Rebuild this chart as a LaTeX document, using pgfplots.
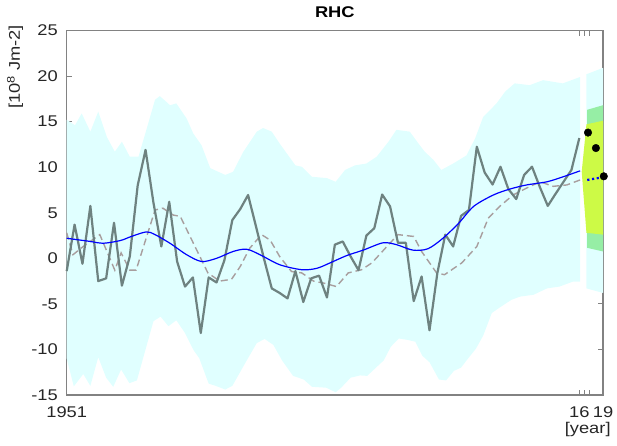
\documentclass[border=0pt]{standalone}
\usepackage{pgfplots}
\pgfplotsset{compat=1.18}
\usepackage{fontspec}
\setmainfont{Liberation Sans}[FakeStretch=1.18]
\definecolor{cyanband}{RGB}{224,255,255}
\definecolor{greenband}{RGB}{150,238,165}
\definecolor{yellowband}{RGB}{205,250,70}
\definecolor{greyline}{RGB}{110,130,128}
\definecolor{dashgrey}{RGB}{168,158,158}
\definecolor{axgrey}{RGB}{130,130,130}
\definecolor{txt}{RGB}{38,38,38}
\begin{document}
\begin{tikzpicture}
\useasboundingbox (0,0) rectangle (617pt,445pt);
\begin{axis}[
  at={(66.7pt,50pt)}, anchor=south west,
  width=536.3pt, height=364.5pt, scale only axis,
  xmin=1951, xmax=2019, ymin=-15, ymax=25,
  ytick={-15,-10,...,25},
  xtick={1951,2016,2019}, xticklabels={1951,16,19},
  extra x ticks={2016.66,2017.25}, extra x tick labels={},
  tick align=inside, major tick length=5pt,
  xtick pos=both, ytick pos=both,
  axis line style={axgrey, line width=1.3pt},
  tick style={axgrey, line width=0.8pt},
  every tick label/.append style={font=\fontsize{15.5}{17}\selectfont, text=txt},
  yticklabel style={inner sep=0pt, xshift=-8.7pt},
  xticklabel style={inner sep=0pt, yshift=-11.7pt},
  /pgf/number format/assume math mode=true,
  /pgf/number format/1000 sep={},
  title={\textbf{RHC}},
  title style={at={(0.5,1)}, anchor=base, yshift=7.5pt, font=\fontsize{15.5}{17}\selectfont, text=black},
  xlabel={{[}year{]}},
  xlabel style={at={(axis description cs:0.9715,0)}, anchor=center, yshift=-34.5pt, font=\fontsize{15.5}{17}\selectfont, text=txt},
  ylabel={{[}10\textsuperscript{8} Jm-2{]}},
  ylabel style={at={(axis description cs:-0.0964,0.9)}, anchor=center, font=\fontsize{15.5}{17}\selectfont, text=txt},
  clip=false,
]
% main uncertainty band
\addplot[fill=cyanband, draw=none] coordinates {
(1951.0,15.2) (1952.05,14.6) (1952.9,15.9) (1954.0,13.9) (1955.0,16.1) (1956.1,13.3) (1957.1,11.7) (1958.0,12.8) (1959.0,11.15) (1960.1,11.15) (1961.1,14.1) (1962.2,17.4) (1962.8,17.8) (1963.6,17.2) (1964.1,16.8) (1964.9,17.0) (1966.2,15.35) (1967.05,13.7) (1968.1,12.4) (1969.2,9.9) (1971.1,9.15) (1972.1,9.5) (1973.4,11.7) (1975.1,13.9) (1975.9,14.3) (1977.0,13.9) (1978.0,12.6) (1980.0,10.2) (1980.8,10.05) (1982.1,8.95) (1984.0,8.8) (1985.1,8.4) (1986.3,9.7) (1987.55,10.2) (1989.0,10.4) (1990.3,11.15) (1991.8,12.8) (1992.8,14.1) (1994.5,13.9) (1995.6,12.6) (1996.4,11.7) (1997.5,10.8) (1998.5,9.7) (2000.0,10.4) (2001.7,11.3) (2002.8,13.2) (2003.8,15.5) (2005.5,17.0) (2006.6,18.3) (2007.8,19.2) (2009.7,19.0) (2011.4,19.55) (2013.9,19.2) (2016.1,19.9)
(2016.1,-2.55) (2015.2,-2.55) (2013.5,-3.1) (2011.9,-3.3) (2010.2,-4.0) (2008.5,-4.2) (2007.4,-4.55) (2005.9,-5.4) (2004.9,-6.0) (2003.8,-8.5) (2002.9,-9.9) (2001.7,-11.2) (2001.0,-12.0) (2000.1,-12.35) (1999.1,-13.4) (1998.2,-13.3) (1997.0,-11.4) (1996.1,-10.7) (1995.2,-9.15) (1994.2,-8.95) (1993.1,-8.8) (1992.1,-9.7) (1991.2,-11.2) (1989.1,-12.9) (1988.2,-12.85) (1987.0,-13.1) (1985.8,-14.2) (1985.1,-14.7) (1983.9,-14.2) (1982.1,-14.1) (1981.05,-13.3) (1979.7,-12.9) (1978.3,-11.2) (1977.2,-9.5) (1976.1,-8.85) (1975.1,-9.3) (1973.7,-11.4) (1972.0,-14.0) (1971.1,-14.4) (1969.9,-14.0) (1969.0,-13.75) (1967.8,-10.95) (1967.1,-10.1) (1966.0,-8.2) (1964.9,-6.8) (1963.9,-7.45) (1962.9,-6.4) (1962.0,-6.9) (1959.9,-13.4) (1958.95,-13.7) (1957.9,-12.2) (1956.9,-14.1) (1956.0,-13.1) (1955.0,-10.85) (1954.0,-14.0) (1953.1,-12.7) (1951.9,-14.05) (1951.0,-11.0)
} -- cycle;
% forecast bands
\addplot[fill=cyanband, draw=none] coordinates {(2016.9,20.2) (2019,20.9) (2019,-3.8) (2016.9,-3.3)} -- cycle;
\addplot[fill=greenband, draw=none] coordinates {(2017.0,16.3) (2019,16.8) (2019,0.75) (2017.0,1.15)} -- cycle;
\addplot[fill=yellowband, draw=none] coordinates {(2016.9,14.7) (2019,15.1) (2019,2.6) (2016.9,2.8) (2016.3,9.5)} -- cycle;
% dashed grey
\addplot[dashgrey, line width=1.4pt, dash pattern=on 7pt off 4pt] coordinates {
(1951.0,2.8) (1951.8,0.4) (1953.1,1.3) (1955.2,2.6) (1957.1,-1.3) (1957.9,0.6) (1959.0,-1.3) (1959.8,-1.3) (1962.2,5.3) (1963.2,5.5) (1964.5,4.75) (1965.4,4.6) (1968.9,-1.6) (1970.4,-2.5) (1971.9,-2.3) (1973.0,-0.9) (1974.2,1.1) (1975.7,2.6) (1976.8,2.0) (1978.0,0.2) (1979.5,-1.45) (1980.8,-1.6) (1982.3,-2.5) (1983.5,-2.7) (1985.2,-3.1) (1986.7,-1.6) (1988.4,-1.25) (1989.7,-0.5) (1991.6,1.3) (1993.0,2.6) (1995.0,2.4) (1996.0,0.75) (1997.9,-1.6) (1998.9,-1.8) (2001.1,-0.5) (2003.0,1.3) (2004.45,4.4) (2005.9,5.7) (2007.6,6.95) (2009.3,7.7) (2011.0,8.4) (2012.7,7.9) (2014.4,8.05) (2016.1,8.6)
};
% annual grey series
\addplot[greyline, line width=2.2pt, line join=round] coordinates {
(1951,-1.4) (1952,3.7) (1953,-0.6) (1954,5.75) (1955,-2.5) (1956,-2.2) (1957,3.9) (1958,-3.0) (1959,0.2) (1960,8.0) (1961,11.9) (1962,6.1) (1963,1.3) (1964,6.2) (1965,-0.35) (1966,-3.1) (1967,-2.1) (1968,-8.2) (1969,-2.1) (1970,-2.65) (1971,-0.2) (1972,4.2) (1973,5.4) (1974,6.95) (1975,3.5) (1976,0.0) (1977,-3.3) (1978,-3.8) (1979,-4.4) (1980,-1.4) (1981,-4.8) (1982,-2.2) (1983,-1.9) (1984,-4.3) (1985,1.5) (1986,1.85) (1987,0.2) (1988,-1.3) (1989,2.5) (1990,3.3) (1991,7.0) (1992,5.7) (1993,1.7) (1994,1.7) (1995,-4.7) (1996,-2.0) (1997,-7.9) (1998,-1.6) (1999,2.6) (2000,1.3) (2001,4.65) (2002,5.3) (2003,12.25) (2004,9.4) (2005,8.1) (2006,10.05) (2007,7.6) (2008,6.5) (2009,9.15) (2010,10.05) (2011,7.8) (2012,5.75) (2013,7.1) (2014,8.4) (2015,9.7) (2016,13.2)
};
% blue smooth trend
\addplot[blue, line width=1.2pt, smooth, tension=0.5] coordinates {
(1951.0,2.2) (1954.0,1.85) (1955.6,1.65) (1957.8,1.95) (1959.2,2.4) (1961.1,2.9) (1962.2,2.6) (1964.1,1.65) (1966.2,0.4) (1968.1,-0.35) (1970.0,0.0) (1972.1,0.75) (1973.8,1.0) (1975.5,0.4) (1978.0,-0.7) (1980.8,-1.25) (1982.7,-1.1) (1984.4,-0.5) (1986.5,0.3) (1988.6,0.9) (1991.1,1.7) (1992.8,1.5) (1994.9,0.9) (1996.8,1.05) (1998.7,2.2) (2000.7,3.85) (2002.6,5.7) (2005.1,6.95) (2007.2,7.6) (2009.3,8.05) (2011.9,8.4) (2013.95,8.95) (2016.1,9.6)
};
% blue dotted forecast
\addplot[blue, line width=2.2pt, dash pattern=on 2.2pt off 2.6pt] coordinates {(2017.0,8.6) (2019.0,8.9)};
% black forecast points
\addplot[only marks, mark=*, mark size=3.8pt, black] coordinates {(2017.1,13.8) (2018.1,12.1) (2019.1,9.0)};
\end{axis}
\end{tikzpicture}
\end{document}
